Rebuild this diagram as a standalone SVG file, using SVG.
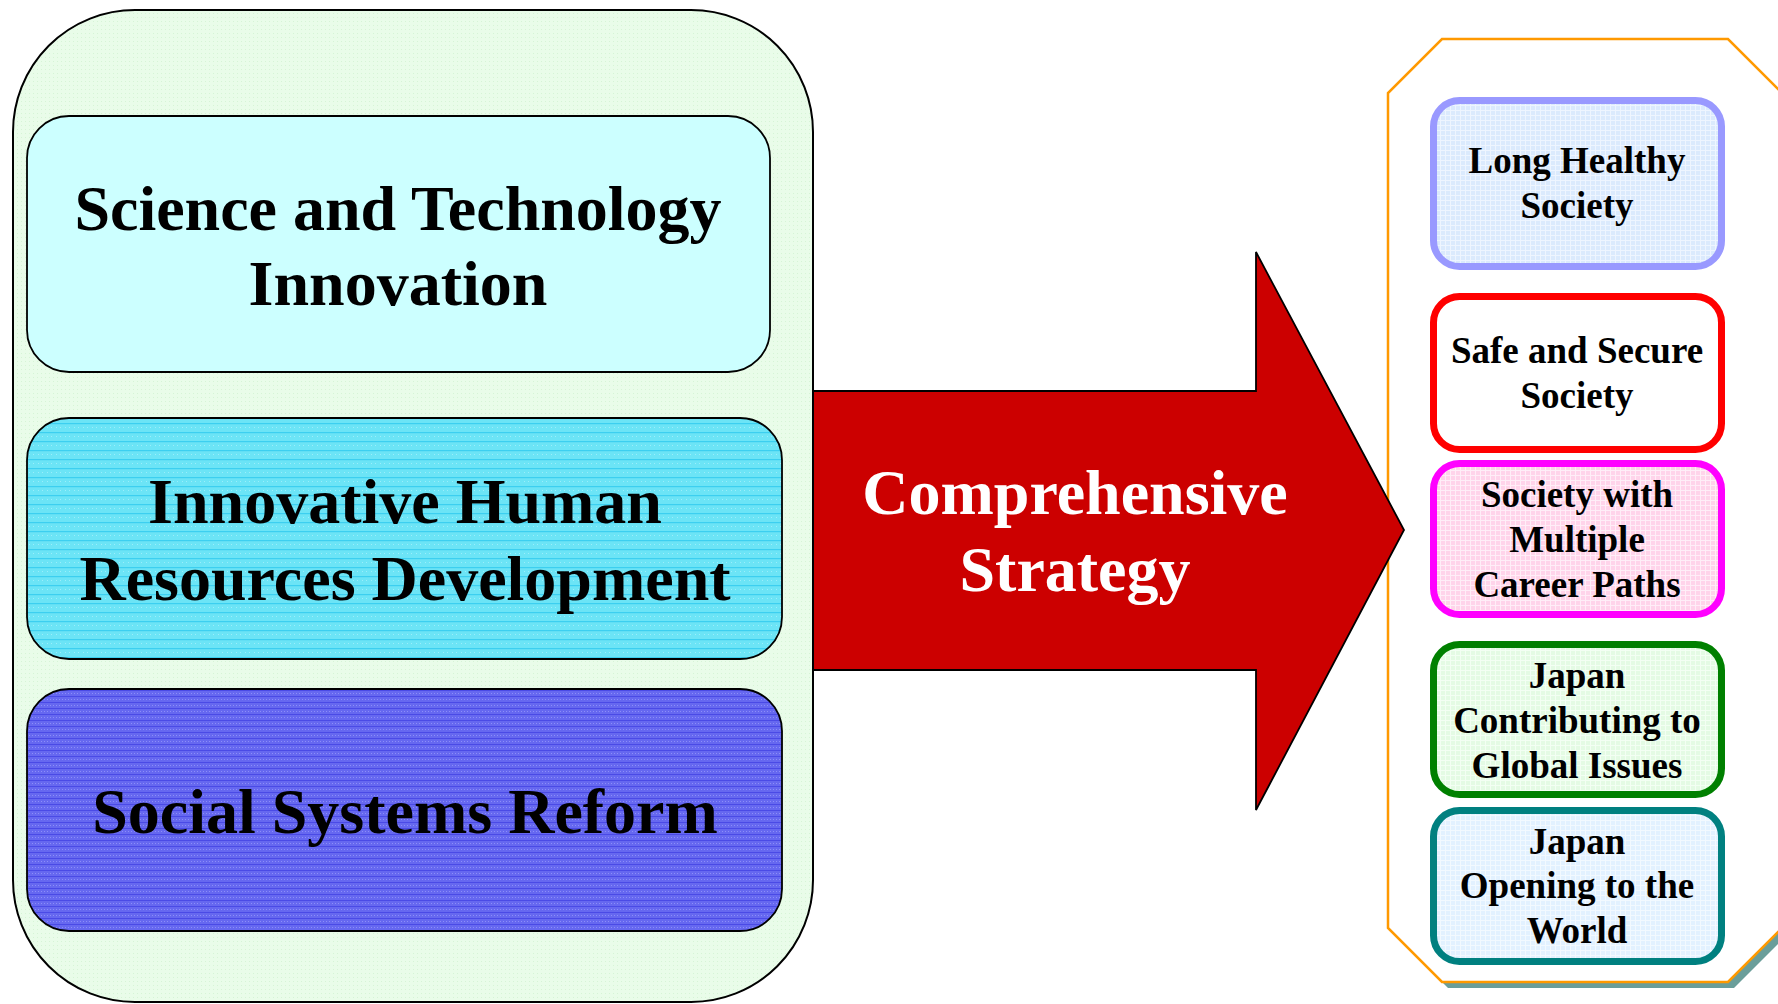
<svg xmlns="http://www.w3.org/2000/svg" width="1778" height="1004" viewBox="0 0 1778 1004">
<style>
.big{font-family:"Liberation Serif","Times New Roman",serif;font-weight:bold;font-size:64px;text-anchor:middle;fill:#000}
.wht{fill:#fff}
.sm{font-family:"Liberation Serif","Times New Roman",serif;font-weight:bold;font-size:37px;text-anchor:middle;fill:#000}
.lbox{stroke:#000;stroke-width:1.8}
.rbox{stroke-width:7}
</style>
<defs>
<pattern id="pGreen" width="4" height="4" patternUnits="userSpaceOnUse">
<rect width="4" height="4" fill="#e9fce9"/><rect x="1" y="1" width="1" height="1" fill="#d6f4d6"/>
</pattern>
<pattern id="pCyan" width="9" height="9" patternUnits="userSpaceOnUse">
<rect width="9" height="9" fill="#6ce4f6"/><rect y="0" width="9" height="1.2" fill="#3ccff0"/>
<rect x="2" y="4" width="1" height="1" fill="#9beefb"/><rect x="6" y="4" width="1" height="1" fill="#9beefb"/>
</pattern>
<pattern id="pBlue" width="6" height="6" patternUnits="userSpaceOnUse">
<rect width="6" height="6" fill="#6668f0"/><rect width="6" height="1" fill="#4a4ae6"/>
<rect x="2" y="3" width="1" height="1" fill="#8c8ef8"/><rect x="5" y="3" width="1" height="1" fill="#8c8ef8"/>
</pattern>
<pattern id="pLBlue" width="5" height="5" patternUnits="userSpaceOnUse">
<rect width="5" height="5" fill="#dbeafd"/><rect width="5" height="1" fill="#eef5ff"/><rect width="1" height="5" fill="#eef5ff"/>
</pattern>
<pattern id="pPink" width="5" height="5" patternUnits="userSpaceOnUse">
<rect width="5" height="5" fill="#ffd4ea"/><rect width="5" height="1" fill="#ffeef7"/><rect width="1" height="5" fill="#ffeef7"/>
</pattern>
<pattern id="pLGreen" width="5" height="5" patternUnits="userSpaceOnUse">
<rect width="5" height="5" fill="#e4fbe4"/><rect width="5" height="1" fill="#f3fff3"/><rect width="1" height="5" fill="#f3fff3"/>
</pattern>
<pattern id="pSky" width="5" height="5" patternUnits="userSpaceOnUse">
<rect width="5" height="5" fill="#e2f1ff"/><rect width="5" height="1" fill="#f2f9ff"/><rect width="1" height="5" fill="#f2f9ff"/>
</pattern>
</defs>
<rect width="1778" height="1004" fill="#fff"/>

<g id="right-container">
<polygon points="1448,45 1734,45 1788,99 1788,934 1734,988 1448,988 1394,934 1394,99" fill="#6a9e9a"/>
<polygon points="1442,39 1728,39 1782,93 1782,928 1728,982 1442,982 1388,928 1388,93" fill="#fff" stroke="#ff9900" stroke-width="2.5"/>
</g>

<g id="connectors">
<polygon points="812,391 1256,391 1256,252 1404,530 1256,810 1256,670 812,670" fill="#cc0000" stroke="#000" stroke-width="1.8" stroke-linejoin="miter"/>
<text class="big wht" x="1075" y="514">Comprehensive</text>
<text class="big wht" x="1075" y="591">Strategy</text>
</g>

<g id="left-container">
<rect x="13" y="10" width="800" height="992" rx="122" ry="122" fill="url(#pGreen)" stroke="#000" stroke-width="2"/>
</g>

<g id="node-science">
<rect class="lbox" x="27" y="116" width="743" height="256" rx="42" fill="#ccffff"/>
<text class="big" x="398" y="230">Science and Technology</text>
<text class="big" x="398" y="305">Innovation</text>
</g>

<g id="node-human">
<rect class="lbox" x="27" y="418" width="755" height="241" rx="42" fill="url(#pCyan)"/>
<text class="big" x="405" y="523">Innovative Human</text>
<text class="big" x="405" y="600">Resources Development</text>
</g>

<g id="node-social">
<rect class="lbox" x="27" y="689" width="755" height="242" rx="42" fill="url(#pBlue)"/>
<text class="big" x="405" y="833">Social Systems Reform</text>
</g>

<g id="node-long-healthy">
<rect class="rbox" x="1433.5" y="100.5" width="288" height="166" rx="26" fill="url(#pLBlue)" stroke="#9999ff"/>
<text class="sm" x="1577" y="173">Long Healthy</text>
<text class="sm" x="1577" y="218">Society</text>
</g>

<g id="node-safe-secure">
<rect class="rbox" x="1433.5" y="296.5" width="288" height="153" rx="26" fill="#fff" stroke="#ff0000"/>
<text class="sm" x="1577" y="363">Safe and Secure</text>
<text class="sm" x="1577" y="408">Society</text>
</g>

<g id="node-career-paths">
<rect class="rbox" x="1433.5" y="463.5" width="288" height="151" rx="26" fill="url(#pPink)" stroke="#ff00ff"/>
<text class="sm" x="1577" y="507">Society with</text>
<text class="sm" x="1577" y="552">Multiple</text>
<text class="sm" x="1577" y="597">Career Paths</text>
</g>

<g id="node-global-issues">
<rect class="rbox" x="1433.5" y="644.5" width="288" height="150" rx="26" fill="url(#pLGreen)" stroke="#008000"/>
<text class="sm" x="1577" y="688">Japan</text>
<text class="sm" x="1577" y="733">Contributing to</text>
<text class="sm" x="1577" y="778">Global Issues</text>
</g>

<g id="node-opening-world">
<rect class="rbox" x="1433.5" y="810.5" width="288" height="151" rx="26" fill="url(#pSky)" stroke="#008080"/>
<text class="sm" x="1577" y="854">Japan</text>
<text class="sm" x="1577" y="898">Opening to the</text>
<text class="sm" x="1577" y="943">World</text>
</g>
</svg>
